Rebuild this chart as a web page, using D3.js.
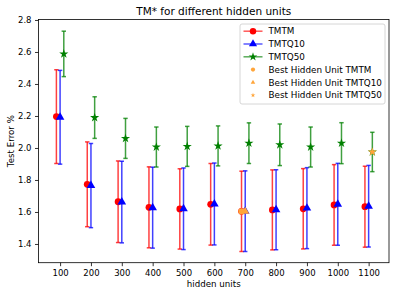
<!DOCTYPE html>
<html>
<head>
<meta charset="utf-8">
<script src="https://cdn.jsdelivr.net/npm/d3@7"></script>
<style>
  body { margin: 0; background: #fff; }
  svg { display: block; font-family: "DejaVu Sans", sans-serif; }
</style>
</head>
<body>
<div id="chart"></div>
<script>
var hiddenUnits = [100, 200, 300, 400, 500, 600, 700, 800, 900, 1000, 1100];

var tmtmMean   = [2.196, 1.773, 1.664, 1.629, 1.619, 1.648, 1.604, 1.613, 1.620, 1.644, 1.633];
var tmtmErr    = [0.293, 0.265, 0.255, 0.253, 0.251, 0.255, 0.251, 0.250, 0.251, 0.252, 0.253];
var tmtq10Mean = [2.192, 1.765, 1.662, 1.627, 1.620, 1.650, 1.605, 1.614, 1.624, 1.648, 1.636];
var tmtq10Err  = [0.293, 0.263, 0.255, 0.253, 0.255, 0.256, 0.252, 0.250, 0.253, 0.256, 0.255];
var tmtq50Mean = [2.588, 2.190, 2.060, 2.006, 2.010, 2.013, 2.030, 2.020, 2.006, 2.030, 1.975];
var tmtq50Err  = [0.142, 0.130, 0.125, 0.125, 0.125, 0.125, 0.127, 0.130, 0.125, 0.128, 0.123];

var yTicks = [1.4, 1.6, 1.8, 2.0, 2.2, 2.4, 2.6, 2.8];

// best hidden unit for each model
var bestTmtm   = {units: 700,  err: 1.604};
var bestTmtq10 = {units: 700,  err: 1.603};
var bestTmtq50 = {units: 1100, err: 1.975};

var W = 399, H = 296;
var margin = {top: 19.5, right: 10, bottom: 33.3, left: 38.5};
var width  = W - margin.left - margin.right;
var height = H - margin.top - margin.bottom;

var svg = d3.select("#chart").append("svg")
  .attr("width", W)
  .attr("height", H);

var g = svg.append("g")
  .attr("transform", "translate(" + margin.left + "," + margin.top + ")");

var x = d3.scaleLinear().domain([30, 1166]).range([0, width]);
var y = d3.scaleLinear().domain([1.283, 2.803]).range([height, 0]);

var series = [
  {name: "TMTM",   mean: tmtmMean,   err: tmtmErr,   color: "#ff0000", shift: -12, symbol: d3.symbolCircle,   size: 36},
  {name: "TMTQ10", mean: tmtq10Mean, err: tmtq10Err, color: "#0000ff", shift: 0,   symbol: d3.symbolTriangle, size: 32},
  {name: "TMTQ50", mean: tmtq50Mean, err: tmtq50Err, color: "#008000", shift: 12,  symbol: d3.symbolStar,     size: 26}
];

var best = [
  {name: "Best Hidden Unit TMTM",   p: bestTmtm,   shift: -12, symbol: d3.symbolCircle,   size: 32, lsize: 14},
  {name: "Best Hidden Unit TMTQ10", p: bestTmtq10, shift: 0,   symbol: d3.symbolTriangle, size: 28, lsize: 9},
  {name: "Best Hidden Unit TMTQ50", p: bestTmtq50, shift: 12,  symbol: d3.symbolStar,     size: 24, lsize: 7}
];

// axes
var xAxis = d3.axisBottom(x).tickValues(hiddenUnits).tickSize(3.5).tickPadding(3.5)
  .tickFormat(d3.format("d"));
var yAxis = d3.axisLeft(y).tickValues(yTicks).tickSize(3.5).tickPadding(3.5)
  .tickFormat(d3.format(".1f"));

g.append("g")
  .attr("transform", "translate(0," + height + ")")
  .call(xAxis);
g.append("g").call(yAxis);

g.selectAll(".tick text").attr("font-size", 8.5).attr("fill", "#000")
  .attr("font-family", "DejaVu Sans, sans-serif");
g.selectAll(".domain").remove();
g.selectAll(".tick line").attr("stroke", "#000").attr("stroke-width", 0.8);

g.append("rect")
  .attr("width", width).attr("height", height)
  .attr("fill", "none").attr("stroke", "#000").attr("stroke-width", 0.8);

// error bars
series.forEach(function(s) {
  var eb = g.append("g")
    .attr("stroke", s.color)
    .attr("stroke-opacity", 0.75)
    .attr("stroke-width", 1.5);

  hiddenUnits.forEach(function(u, i) {
    var cx = x(u + s.shift);
    var lo = y(s.mean[i] - s.err[i]);
    var hi = y(s.mean[i] + s.err[i]);
    eb.append("line").attr("x1", cx).attr("x2", cx).attr("y1", lo).attr("y2", hi);
    eb.append("line").attr("x1", cx - 2.2).attr("x2", cx + 2.2).attr("y1", lo).attr("y2", lo);
    eb.append("line").attr("x1", cx - 2.2).attr("x2", cx + 2.2).attr("y1", hi).attr("y2", hi);
  });
});

// markers
series.forEach(function(s) {
  g.append("g").selectAll("path")
    .data(hiddenUnits)
    .enter().append("path")
    .attr("d", d3.symbol().type(s.symbol).size(s.size))
    .attr("transform", function(u, i) {
      return "translate(" + x(u + s.shift) + "," + y(s.mean[i]) + ")";
    })
    .attr("fill", s.color);
});

best.forEach(function(b) {
  g.append("path")
    .attr("d", d3.symbol().type(b.symbol).size(b.size))
    .attr("transform", "translate(" + x(b.p.units + b.shift) + "," + y(b.p.err) + ")")
    .attr("fill", "#ffa53a");
});

// title and labels
svg.append("text")
  .attr("x", margin.left + width / 2).attr("y", 14.5)
  .attr("text-anchor", "middle").attr("font-size", 10.5)
  .text("TM* for different hidden units");

svg.append("text")
  .attr("x", margin.left + width / 2).attr("y", 287)
  .attr("text-anchor", "middle").attr("font-size", 8.7)
  .text("hidden units");

svg.append("text")
  .attr("transform", "translate(14," + (margin.top + height / 2) + ") rotate(-90)")
  .attr("text-anchor", "middle").attr("font-size", 8.7)
  .text("Test Error %");

// legend
var leg = svg.append("g").attr("transform", "translate(240,24)");
leg.append("rect")
  .attr("width", 145).attr("height", 80).attr("rx", 2)
  .attr("fill", "#fff").attr("fill-opacity", 0.8)
  .attr("stroke", "#cccccc").attr("stroke-width", 0.8);

var rowH = 12.8;
series.forEach(function(s, i) {
  var ry = 7.2 + i * rowH;
  leg.append("line")
    .attr("x1", 3.5).attr("x2", 22.5).attr("y1", ry).attr("y2", ry)
    .attr("stroke", s.color).attr("stroke-opacity", 0.65).attr("stroke-width", 1.5);
  leg.append("path")
    .attr("d", d3.symbol().type(s.symbol).size(s.size * 0.9))
    .attr("transform", "translate(13," + ry + ")")
    .attr("fill", s.color);
  leg.append("text")
    .attr("x", 28.5).attr("y", ry + 3.1)
    .attr("font-size", 8.8)
    .text(s.name);
});
best.forEach(function(b, i) {
  var ry = 7.2 + (i + 3) * rowH;
  leg.append("path")
    .attr("d", d3.symbol().type(b.symbol).size(b.lsize))
    .attr("transform", "translate(13," + ry + ")")
    .attr("fill", "#ffa53a");
  leg.append("text")
    .attr("x", 28.5).attr("y", ry + 3.1)
    .attr("font-size", 8.8)
    .text(b.name);
});
</script>
</body>
</html>
